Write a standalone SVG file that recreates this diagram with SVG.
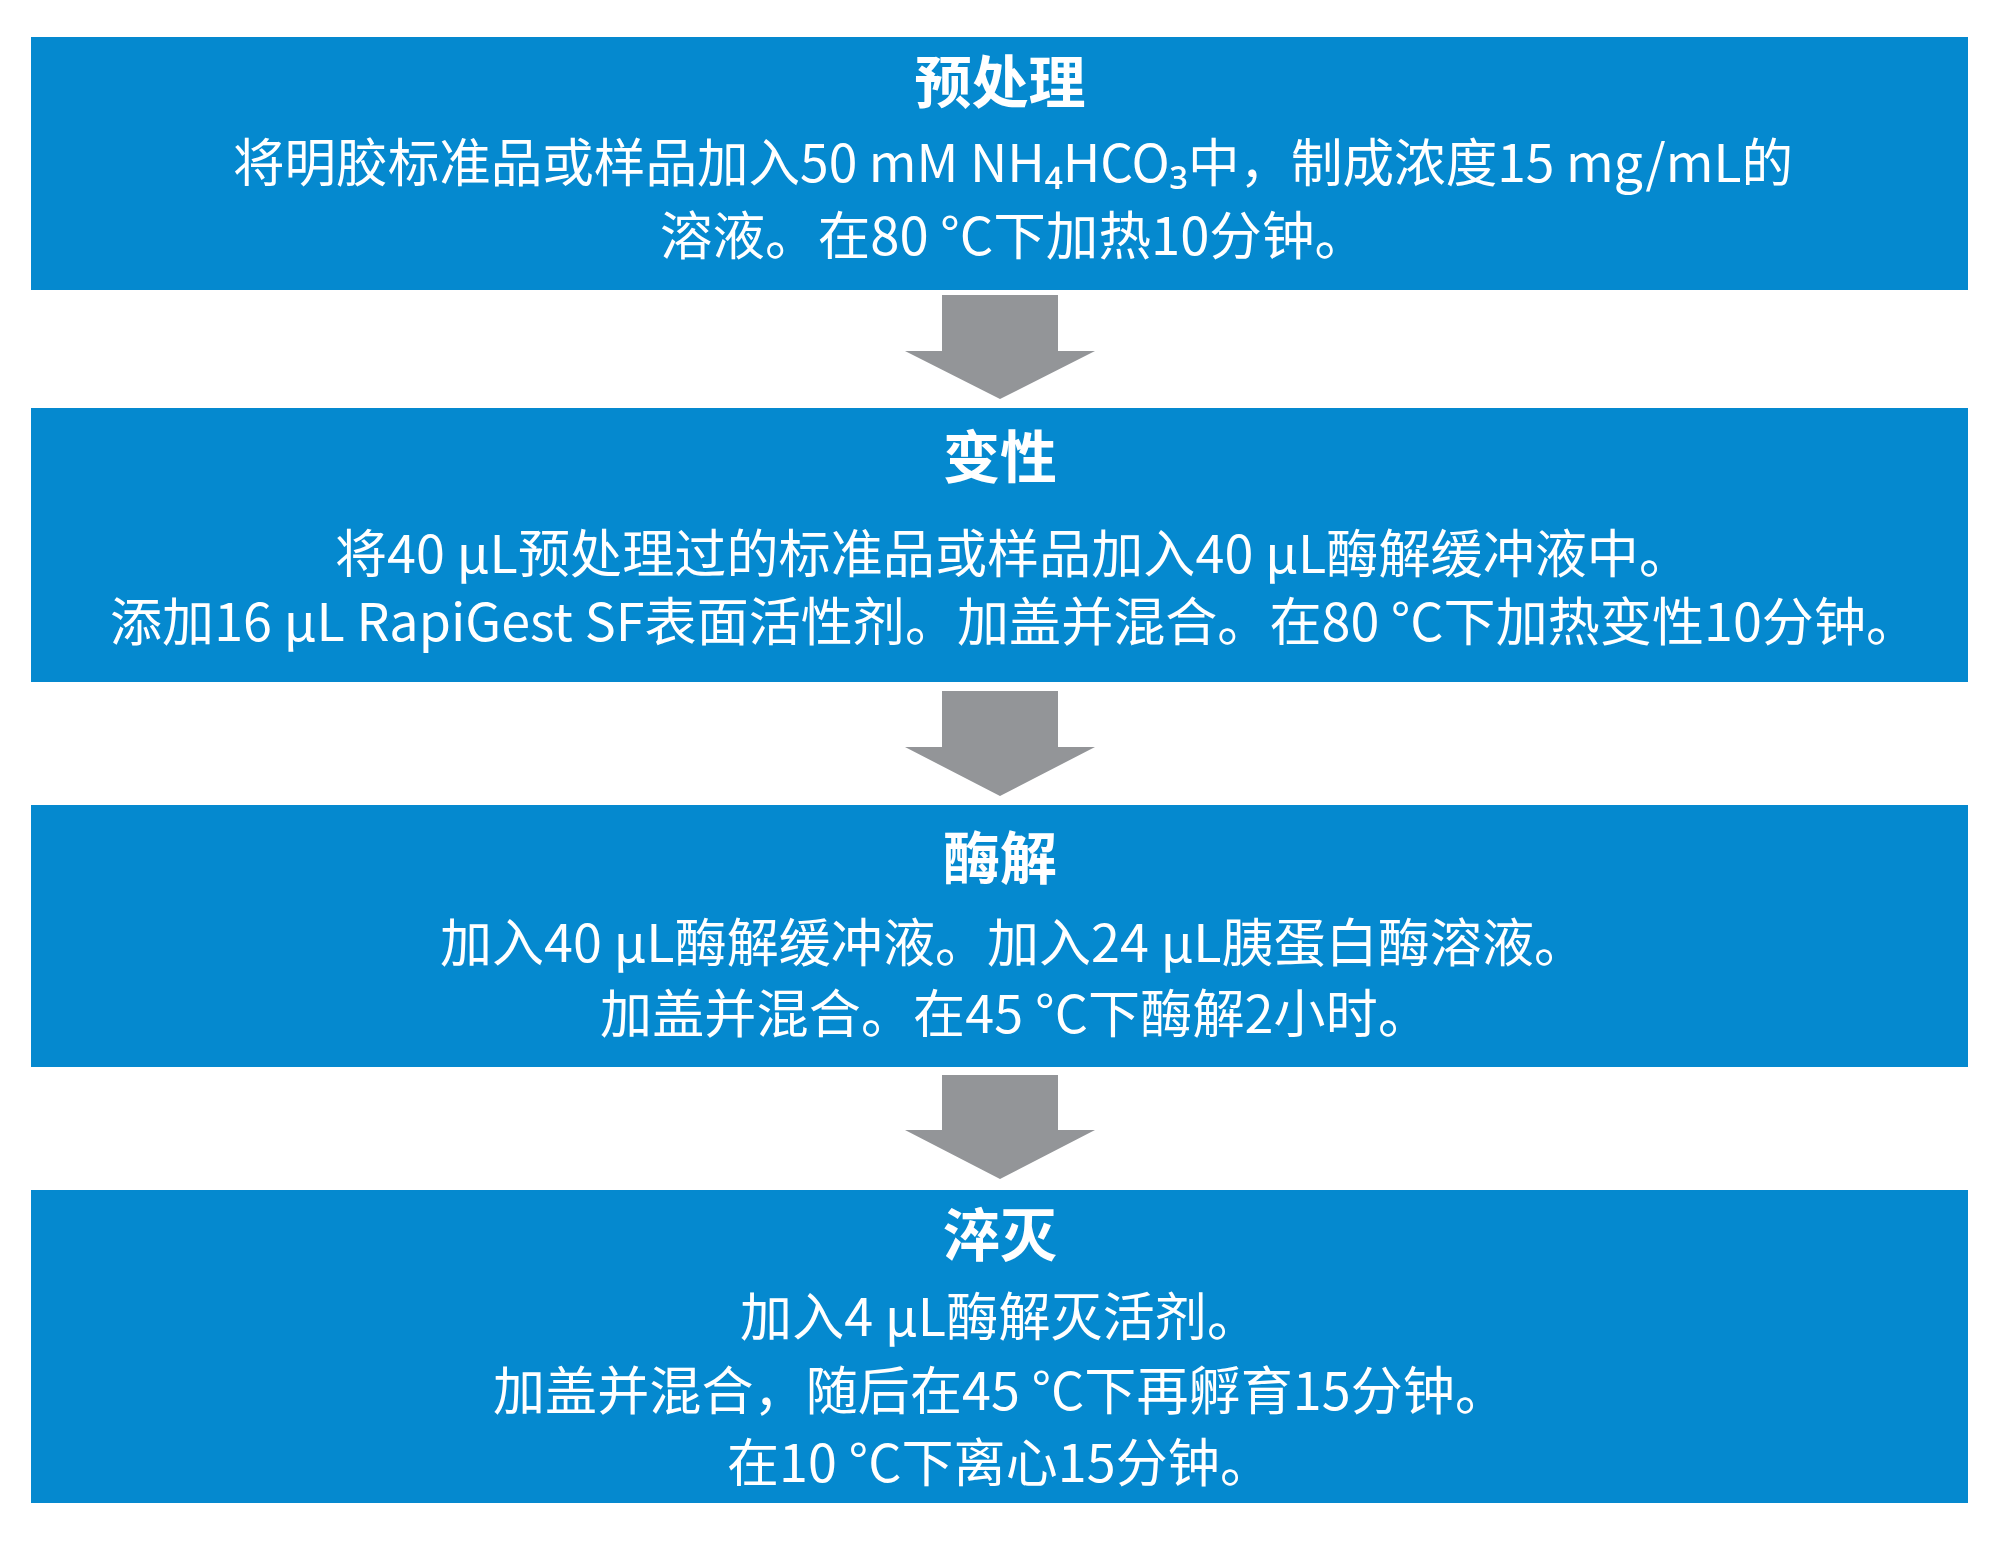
<svg xmlns="http://www.w3.org/2000/svg" width="2000" height="1541" viewBox="0 0 2000 1541">
<style>
.box{fill:#0589cf}
.arrow{fill:#939598}
.title{font-family:"Noto Sans CJK SC","Noto Sans",sans-serif;font-weight:700;font-size:57px;fill:#ffffff;text-anchor:middle}
.body{font-family:"Noto Sans CJK SC","Noto Sans","DejaVu Sans",sans-serif;font-weight:400;font-size:52px;fill:#ffffff}
</style>
<rect width="2000" height="1541" fill="#ffffff"/>
<g id="connectors">
<polygon class="arrow" points="942,295 1058,295 1058,351 1095,351 1000,399 905,351 942,351"/>
<polygon class="arrow" points="942,691 1058,691 1058,747 1095,747 1000,796 905,747 942,747"/>
<polygon class="arrow" points="942,1075 1058,1075 1058,1130 1095,1130 1000,1179 905,1130 942,1130"/>
</g>
<g id="step-pretreat">
<rect class="box" x="31" y="37" width="1937" height="253"/>
<text class="title" x="1000" y="103">预处理</text>
<text class="body" x="233" y="182" textLength="1560" lengthAdjust="spacingAndGlyphs">将明胶标准品或样品加入50 mM NH₄HCO₃中，制成浓度15 mg/mL的</text>
<text class="body" x="660" y="255" textLength="707" lengthAdjust="spacingAndGlyphs">溶液。在80 °C下加热10分钟。</text>
</g>
<g id="step-denature">
<rect class="box" x="31" y="408" width="1937" height="274"/>
<text class="title" x="1000" y="478">变性</text>
<text class="body" x="335" y="573" textLength="1356" lengthAdjust="spacing">将40 µL预处理过的标准品或样品加入40 µL酶解缓冲液中。</text>
<text class="body" x="110" y="641" textLength="1808" lengthAdjust="spacing">添加16 µL RapiGest SF表面活性剂。加盖并混合。在80 °C下加热变性10分钟。</text>
</g>
<g id="step-digest">
<rect class="box" x="31" y="805" width="1937" height="262"/>
<text class="title" x="1000" y="879">酶解</text>
<text class="body" x="440" y="962" textLength="1146" lengthAdjust="spacing">加入40 µL酶解缓冲液。加入24 µL胰蛋白酶溶液。</text>
<text class="body" x="600" y="1033" textLength="830" lengthAdjust="spacing">加盖并混合。在45 °C下酶解2小时。</text>
</g>
<g id="step-quench">
<rect class="box" x="31" y="1190" width="1937" height="313"/>
<text class="title" x="1000" y="1256">淬灭</text>
<text class="body" x="740" y="1336" textLength="519" lengthAdjust="spacing">加入4 µL酶解灭活剂。</text>
<text class="body" x="493" y="1410" textLength="1014" lengthAdjust="spacing">加盖并混合，随后在45 °C下再孵育15分钟。</text>
<text class="body" x="727" y="1482" textLength="545" lengthAdjust="spacing">在10 °C下离心15分钟。</text>
</g>
</svg>
